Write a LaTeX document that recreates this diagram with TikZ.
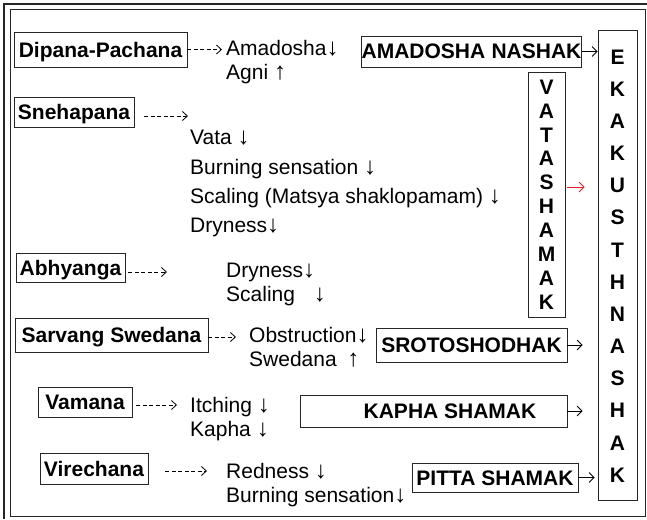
\documentclass[tikz,border=0pt]{standalone}
\usepackage{fontspec}
\setmainfont{Liberation Sans}
\usetikzlibrary{arrows.meta,positioning}
\definecolor{framegray}{gray}{0.15}
\definecolor{arrowred}{rgb}{0.93,0.11,0.14}
\newcommand{\downmark}{{\fontsize{24}{24}\selectfont↓}}
\newcommand{\upmark}{{\fontsize{24}{24}\selectfont↑}}
\tikzstyle{box}=[rectangle,draw=framegray,line width=0.8pt,inner sep=0pt,text height=15pt,text depth=0pt,font=\fontsize{21}{25}\selectfont\bfseries]
\tikzstyle{effect}=[inner sep=0pt,anchor=base west,font=\fontsize{21}{25}\selectfont]
\tikzstyle{letter}=[inner sep=0pt,font=\fontsize{21}{25}\selectfont\bfseries]
\tikzstyle{dasharrow}=[line width=0.8pt,dash pattern=on 4pt off 2.5pt,-{Straight Barb[length=5pt,width=9pt]}]
\tikzstyle{solidarrow}=[line width=0.8pt,-{Straight Barb[length=5pt,width=10pt]}]

\begin{document}
\begin{tikzpicture}[x=1pt,y=-1pt]
\useasboundingbox (0,0) rectangle (647,519);
%--------------------start frame code --------------------
	\draw[framegray,line width=2.6pt] (4,519) -- (4,4) -- (647,4);
	\draw[framegray,line width=0.8pt] (10,9) rectangle (645,516);
%--------------------start object code --------------------
	%Therapies
	\node[box,minimum width=173pt,minimum height=35pt] (dipana) at (100.5,49.5) {Dipana-Pachana};
	\node[box,minimum width=120pt,minimum height=30pt] (snehapana) at (74,112) {Snehapana};
	\node[box,minimum width=109pt,minimum height=29pt] (abhyanga) at (70.5,267.5) {Abhyanga};
	\node[box,minimum width=193pt,minimum height=34pt] (sarvang) at (111.5,335) {Sarvang Swedana};
	\node[box,minimum width=94pt,minimum height=30pt] (vamana) at (85,402) {Vamana};
	\node[box,minimum width=108pt,minimum height=31pt] (virechana) at (94,468.5) {Virechana};
	
	%Effects
	\node[effect] (amadosha) at (226,56) {Amadosha\downmark};
	\node[effect] (agni) at (226,79) {Agni \upmark};
	\node[effect] (vatadown) at (190,144) {Vata \downmark};
	\node[effect] (burning) at (190,174) {Burning sensation \downmark};
	\node[effect] (scaling) at (190,203) {Scaling (Matsya shaklopamam) \downmark};
	\node[effect] (dryness) at (190,232) {Dryness\downmark};
	\node[effect] (drynessb) at (226,277) {Dryness\downmark};
	\node[effect] (scalingb) at (226,301) {Scaling\hspace{0.9em}\downmark};
	\node[effect] (obstruction) at (249,342) {Obstruction\downmark};
	\node[effect] (swedana) at (249,366) {Swedana\hspace{0.5em}\upmark};
	\node[effect] (itching) at (190,412) {Itching \downmark};
	\node[effect] (kaphadown) at (190,436) {Kapha \downmark};
	\node[effect] (redness) at (226,478) {Redness \downmark};
	\node[effect] (burningb) at (226,502) {Burning sensation\downmark};
	
	%Actions
	\node[box,minimum width=219pt,minimum height=31pt] (amadoshanashak) at (471.5,51.5) {AMADOSHA\hspace{0.3em}NASHAK};
	\node[box,minimum width=37pt,minimum height=245pt] (vatashamak) at (546.5,194.5) {};
	\node[box,minimum width=191pt,minimum height=34pt] (srotoshodhak) at (471.5,345) {SROTOSHODHAK};
	\node[box,minimum width=267pt,minimum height=32pt] (kaphashamak) at (433.5,411) {};
	\node[letter] (kaphatext) at (450,411) {KAPHA SHAMAK};
	\node[box,minimum width=166pt,minimum height=29pt] (pittashamak) at (495,477.5) {PITTA SHAMAK};
	\node[box,minimum width=39pt,minimum height=470pt] (ekakusthnashak) at (617.5,265) {};
	
	\foreach \l [count=\i from 0] in {V,A,T,A,S,H,A,M,A,K}
		\node[letter] at (546.5,87+23.9*\i) {\l};
	\foreach \l [count=\i from 0] in {E,K,A,K,U,S,T,H,N,A,S,H,A,K}
		\node[letter] at (617.5,57+32.15*\i) {\l};
	
	%Dashed arrows
	\coordinate (snehaend) at (188,116);
	\coordinate (abhyend) at (167,272);
	\draw[dasharrow,shorten >=4pt] (dipana.east) -- (amadosha.west |- dipana.east);
	\draw[dasharrow,shorten <=10pt] (snehapana.east |- snehaend) -- (snehaend);
	\draw[dasharrow,shorten <=3pt] (abhyanga.east |- abhyend) -- (abhyend);
	\draw[dasharrow,shorten >=13pt] (sarvang.east |- 0,337) -- (obstruction.west |- 0,337);
	\draw[dasharrow,shorten <=4pt,shorten >=13pt] (vamana.east |- 0,405) -- (itching.west |- 0,405);
	\draw[dasharrow,shorten <=17pt,shorten >=19pt] (virechana.east |- 0,471) -- (redness.west |- 0,471);
	
	%Arrows to Ekakusthnashak
	\coordinate (vataout) at (567,187);
	\draw[solidarrow] (amadoshanashak.east) -- (amadoshanashak.east -| ekakusthnashak.west);
	\draw[solidarrow,arrowred,shorten >=13pt] (vataout) -- (vataout -| ekakusthnashak.west);
	\draw[solidarrow,shorten >=15pt] (srotoshodhak.east) -- (srotoshodhak.east -| ekakusthnashak.west);
	\draw[solidarrow,shorten >=15pt] (kaphashamak.east) -- (kaphashamak.east -| ekakusthnashak.west);
	\draw[solidarrow,shorten >=3pt] (pittashamak.east) -- (pittashamak.east -| ekakusthnashak.west);
%-------------------------end object code-----------------------
\end{tikzpicture}
\end{document}
